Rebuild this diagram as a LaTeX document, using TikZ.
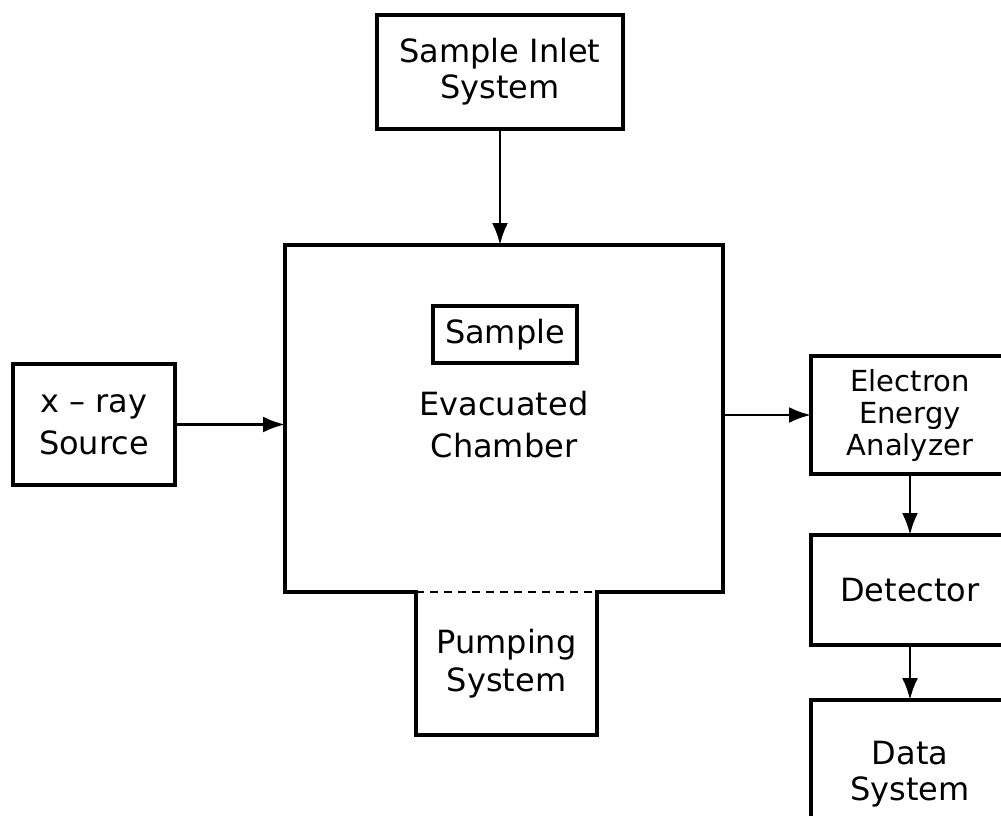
\documentclass[tikz,border=0pt]{standalone}
\usepackage{fontspec}
\setmainfont{DejaVu Sans}
\usepackage{tikz}
\usetikzlibrary{arrows.meta}
\tikzset{blk/.style={draw=black,line width=1.6pt,inner sep=0pt,outer sep=0pt,align=center,font=\fontsize{16}{18}\selectfont}}
\tikzset{lbl/.style={inner sep=0pt,align=center,font=\fontsize{16}{21}\selectfont}}
\tikzset{arw/.style={line width=1.4pt,-{Latex[length=11pt,width=8pt]}}}
\tikzset{wall/.style={line width=1.6pt}}

\begin{document}
\begin{tikzpicture}[x=0.5pt,y=-0.5pt]
\useasboundingbox (0,0) rectangle (1001,815);
\clip (0,0) rectangle (1001,815);

\node[blk,minimum width=123pt,minimum height=57pt] (inlet) at (500,72) {Sample Inlet\\System};
\node[blk,draw=none,minimum width=219pt,minimum height=173.5pt] (chamber) at (504,418.5) {};
\node[blk,minimum width=72pt,minimum height=28.5pt] (sample) at (505,334.5) {Sample};
\node[lbl] (evac) at (504,425) {Evacuated\\Chamber};
\node[blk,draw=none,font=\fontsize{16}{19}\selectfont,minimum width=90.5pt,minimum height=71.5pt] (pump) at (506.5,663.5) {Pumping\\System};
\node[blk,font=\fontsize{16}{21}\selectfont,minimum width=81pt,minimum height=60.5pt] (xray) at (94,424.5) {x -- ray\\Source};
\node[blk,font=\fontsize{14.5}{16}\selectfont,minimum width=99pt,minimum height=59pt] (ana) at (910,415) {Electron\\Energy\\Analyzer};
\node[blk,minimum width=99pt,minimum height=55pt] (det) at (910,590) {Detector};
\node[blk,minimum width=99pt,minimum height=74pt] (data) at (910,774) {Data\\System};

\draw[wall] (pump.north west) -- (chamber.south west) -- (chamber.north west) -- (chamber.north east) -- (chamber.south east) -- (pump.north east) -- (pump.south east) -- (pump.south west) -- cycle;
\draw[line width=1.3pt,dash pattern=on 4pt off 3pt] (pump.north west) -- (pump.north east);

\draw[arw] (inlet.south) -- (inlet.south |- chamber.north);
\draw[arw] (xray.east) -- (xray.east -| chamber.west);
\draw[arw] (ana.west -| chamber.east) -- (ana.west);
\draw[arw] (ana.south) -- (det.north);
\draw[arw] (det.south) -- (data.north);
\end{tikzpicture}
\end{document}
